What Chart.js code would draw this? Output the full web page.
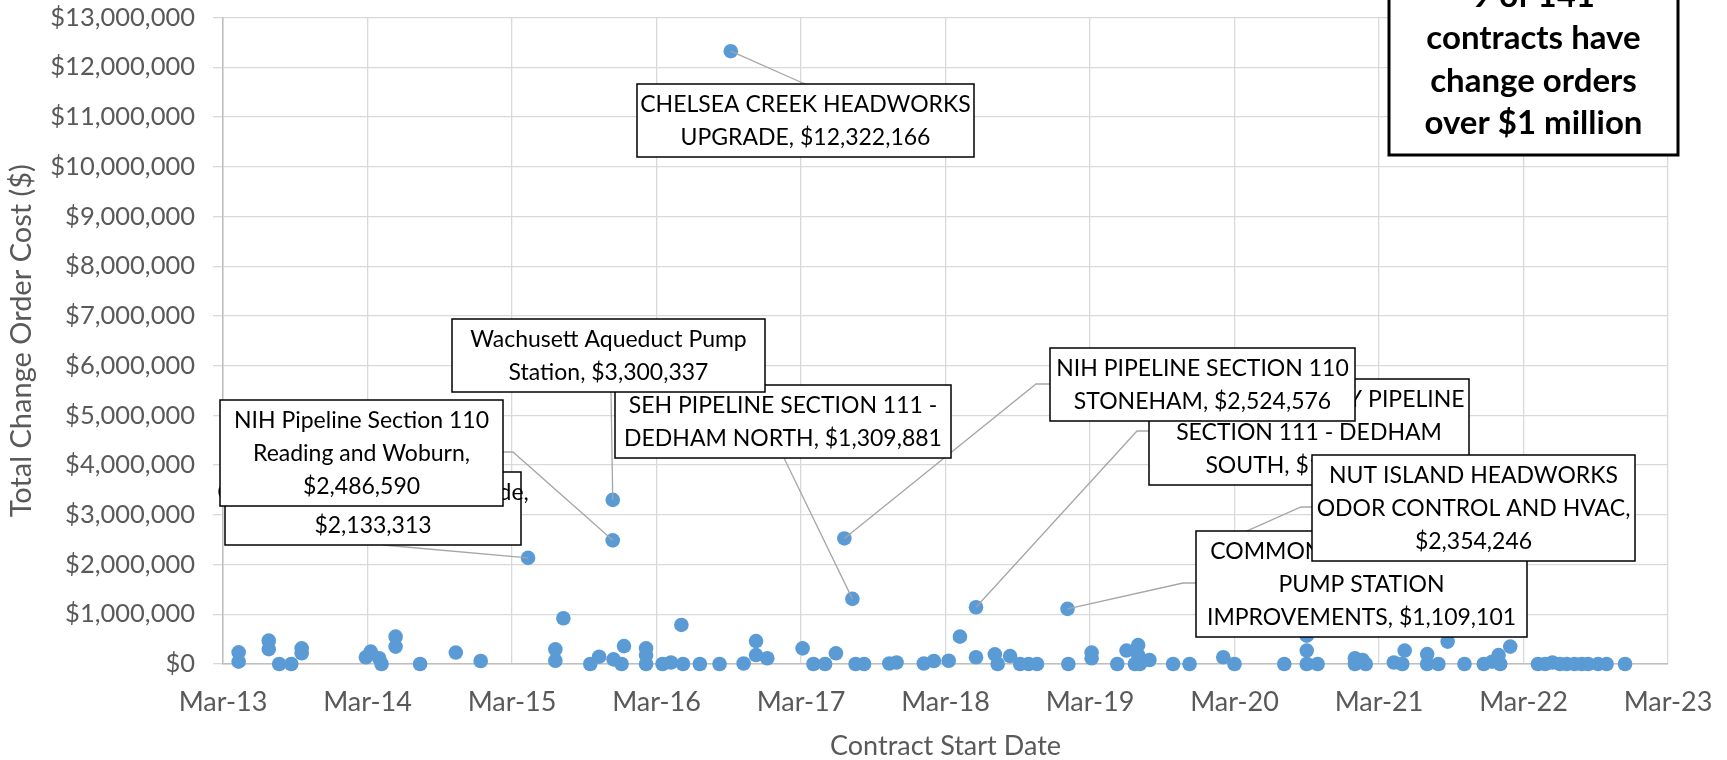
<!DOCTYPE html>
<html>
<head>
<meta charset="utf-8">
<script src="https://cdn.jsdelivr.net/npm/chart.js@4.4.1/dist/chart.umd.min.js"></script>
<style>
  html, body { margin: 0; padding: 0; background: #fff; }
  #wrap { width: 1727px; height: 760px; }
</style>
</head>
<body>
<div id="wrap"><canvas id="chart" width="1727" height="760"></canvas></div>
<script>
// contract start dates and total change order cost
const startDates = [
  '2013-04-10', '2013-04-10', '2013-06-25', '2013-06-25', '2013-07-21', '2013-08-21', '2013-09-17', '2013-09-17',
  '2014-02-27', '2014-03-09', '2014-03-30', '2014-04-06', '2014-05-11', '2014-05-11', '2014-07-12', '2014-10-11',
  '2014-12-13', '2015-04-11', '2015-06-19', '2015-06-19', '2015-07-09', '2015-09-16', '2015-10-08', '2015-11-12',
  '2015-11-12', '2015-11-14', '2015-12-04', '2015-12-10', '2016-02-05', '2016-02-05', '2016-02-05', '2016-03-16',
  '2016-04-07', '2016-05-03', '2016-05-07', '2016-06-19', '2016-08-08', '2016-09-06', '2016-10-08', '2016-11-09',
  '2016-11-09', '2016-12-07', '2017-03-05', '2017-04-02', '2017-05-01', '2017-05-28', '2017-06-19', '2017-07-09',
  '2017-07-17', '2017-08-08', '2017-10-11', '2017-10-29', '2018-01-07', '2018-02-02', '2018-03-09', '2018-04-07',
  '2018-05-17', '2018-05-17', '2018-07-04', '2018-07-11', '2018-08-12', '2018-09-07', '2018-09-28', '2018-10-19',
  '2019-01-05', '2019-01-07', '2019-03-05', '2019-03-05', '2019-05-09', '2019-06-02', '2019-06-23', '2019-07-01',
  '2019-07-01', '2019-07-05', '2019-07-29', '2019-09-28', '2019-11-09', '2020-01-03', '2020-02-03', '2020-03-01',
  '2020-07-05', '2020-09-01', '2020-09-01', '2020-09-01', '2020-09-28', '2021-01-01', '2021-01-01', '2021-01-20',
  '2021-01-28', '2021-04-08', '2021-04-29', '2021-05-05', '2021-07-01', '2021-07-01', '2021-07-29', '2021-08-22',
  '2021-10-04', '2021-11-22', '2021-12-13', '2021-12-29', '2022-01-03', '2022-01-28', '2022-04-07', '2022-04-25',
  '2022-05-13', '2022-06-02', '2022-06-19', '2022-07-08', '2022-07-26', '2022-08-12', '2022-09-07', '2022-09-28',
  '2022-11-14'
];
const changeOrderCost = [
  235000, 46000, 470000, 300000, 0, 0, 315000, 215000,
  135000, 250000, 115000, 0, 550000, 350000, 0, 230000,
  60000, 2133313, 295000, 66000, 920000, 0, 147000, 3300337,
  2486590, 94000, 0, 360000, 315000, 180000, 0, 0,
  30000, 785000, 0, 0, 0, 12322166, 10000, 460000,
  180000, 115000, 315000, 0, 0, 215000, 2524576, 1309881,
  0, 0, 10000, 30000, 10000, 60000, 66000, 550000,
  1141000, 135000, 195000, 0, 160000, 0, 0, 0,
  1109101, 0, 230000, 115000, 0, 270000, 0, 380000,
  180000, 0, 80000, 0, 0, 2354246, 135000, 0,
  0, 570000, 270000, 0, 0, 115000, 0, 80000,
  0, 30000, 0, 270000, 200000, 0, 0, 450000,
  0, 0, 46000, 180000, 0, 350000, 0, 0,
  30000, 0, 0, 0, 0, 0, 0, 0,
  0
];
const xTickLabels = ['Mar-13', 'Mar-14', 'Mar-15', 'Mar-16', 'Mar-17', 'Mar-18', 'Mar-19', 'Mar-20', 'Mar-21', 'Mar-22', 'Mar-23'];
const noteLines = ['9 of 141', 'contracts have', 'change orders', 'over $1 million'];

// months since 1 Mar 2013
const toMonths = (d) => {
  const [yy, mm, dd] = d.split('-').map(Number);
  return (yy - 2013) * 12 + (mm - 3) + (dd - 1) / 30;
};

// data label boxes, in draw order (later ones on top)
const callouts = [
  { cost: 2133313, left: 225, top: 472, width: 296, path: [[383, 545]],
    lines: ['Chelsea Screenhouse Upgrade,', '$2,133,313'] },
  { cost: 2486590, left: 220, top: 400, width: 283, path: [[513, 452], [503, 452]],
    lines: ['NIH Pipeline Section 110', 'Reading and Woburn,', '$2,486,590'] },
  { cost: 12322166, left: 637, top: 84, width: 337, path: [[805, 84]],
    lines: ['CHELSEA CREEK HEADWORKS', 'UPGRADE, $12,322,166'] },
  { cost: 1309881, left: 615, top: 385, width: 336, path: [[784, 458]],
    lines: ['SEH PIPELINE SECTION 111 -', 'DEDHAM NORTH, $1,309,881'] },
  { cost: 3300337, left: 452, top: 319, width: 313, path: [[611, 392]],
    lines: ['Wachusett Aqueduct Pump', 'Station, $3,300,337'] },
  { cost: 1141000, left: 1149, top: 379, width: 320, path: [[1137, 431], [1149, 431]],
    lines: ['SEH REDUNDANCY PIPELINE', 'SECTION 111 - DEDHAM', 'SOUTH, $1,141,000'] },
  { cost: 2524576, left: 1050, top: 348, width: 305, path: [[1036, 384], [1050, 384]],
    lines: ['NIH PIPELINE SECTION 110', 'STONEHAM, $2,524,576'] },
  { cost: 1109101, left: 1196, top: 531, width: 331, path: [[1183, 583], [1196, 583]],
    lines: ['COMMONWEALTH AVENUE', 'PUMP STATION', 'IMPROVEMENTS, $1,109,101'] },
  { cost: 2354246, left: 1312, top: 455, width: 323, path: [[1301, 507], [1312, 507]],
    lines: ['NUT ISLAND HEADWORKS', 'ODOR CONTROL AND HVAC,', '$2,354,246'] }
];

const calloutPlugin = {
  id: 'callouts',
  afterDatasetsDraw(chart) {
    const { ctx, scales: { x, y } } = chart;
    ctx.save();
    ctx.strokeStyle = '#A6A6A6';
    ctx.lineWidth = 1.3;
    callouts.forEach(c => {
      const i = changeOrderCost.indexOf(c.cost);
      ctx.beginPath();
      ctx.moveTo(x.getPixelForValue(toMonths(startDates[i])), y.getPixelForValue(changeOrderCost[i]));
      c.path.forEach(p => ctx.lineTo(p[0], p[1]));
      ctx.stroke();
    });

    ctx.font = '23px Lato';
    ctx.textAlign = 'center';
    ctx.textBaseline = 'middle';
    callouts.forEach(c => {
      const h = c.lines.length * 33 + 7;
      ctx.fillStyle = '#fff';
      ctx.fillRect(c.left, c.top, c.width, h);
      ctx.strokeStyle = '#000';
      ctx.lineWidth = 1.5;
      ctx.strokeRect(c.left, c.top, c.width, h);
      ctx.fillStyle = '#000';
      c.lines.forEach((t, k) => ctx.fillText(t, c.left + c.width / 2, c.top + 21 + 33 * k));
    });

    // note box in the top right corner
    ctx.fillStyle = '#fff';
    ctx.fillRect(1389, -20, 289, 175);
    ctx.strokeStyle = '#000';
    ctx.lineWidth = 3;
    ctx.strokeRect(1389, -20, 289, 175);
    ctx.fillStyle = '#000';
    ctx.font = 'bold 33px Lato';
    noteLines.forEach((t, k) => ctx.fillText(t, 1533.5, -4 + 42.5 * k));
    ctx.restore();
  }
};

new Chart(document.getElementById('chart'), {
  type: 'scatter',
  data: {
    datasets: [{
      data: startDates.map((d, i) => ({ x: toMonths(d), y: changeOrderCost[i] })),
      backgroundColor: '#5B9BD5',
      borderWidth: 0,
      pointRadius: 7.3,
      pointHoverRadius: 7.3,
      clip: false
    }]
  },
  options: {
    responsive: false,
    animation: false,
    devicePixelRatio: 1,
    layout: { padding: { top: 0, right: 59, bottom: 0, left: 0 } },
    plugins: { legend: { display: false }, tooltip: { enabled: false } },
    scales: {
      x: {
        type: 'linear',
        min: 0,
        max: 120,
        ticks: {
          stepSize: 12,
          autoSkip: false,
          maxRotation: 0,
          padding: 22,
          color: '#595959',
          font: { family: 'Lato', size: 27 },
          callback: v => xTickLabels[Math.round(v / 12)]
        },
        grid: { color: '#D9D9D9', lineWidth: 1.3, drawTicks: false },
        border: { color: '#BFBFBF', width: 1.5 },
        title: { display: true, text: 'Contract Start Date', color: '#595959', font: { family: 'Lato', size: 27, lineHeight: 1 }, padding: { top: 0, bottom: 0 } },
        afterFit: s => { s.height = 96; s.paddingLeft = 0; s.paddingRight = 0; }
      },
      y: {
        min: 0,
        max: 13000000,
        ticks: {
          stepSize: 1000000,
          padding: 18,
          color: '#595959',
          font: { family: 'Lato', size: 25.5 },
          callback: v => '$' + Number(v).toLocaleString('en-US')
        },
        grid: { color: '#D9D9D9', lineWidth: 1.3, tickLength: 10 },
        border: { color: '#BFBFBF', width: 1.5 },
        title: { display: true, text: 'Total Change Order Cost ($)', color: '#595959', font: { family: 'Lato', size: 29, lineHeight: 1 }, padding: { top: 7.5, bottom: 0 } },
        afterFit: s => { s.width = 223; s.paddingTop = 17.5; s.paddingBottom = 0; }
      }
    }
  },
  plugins: [calloutPlugin]
});
</script>
</body>
</html>
